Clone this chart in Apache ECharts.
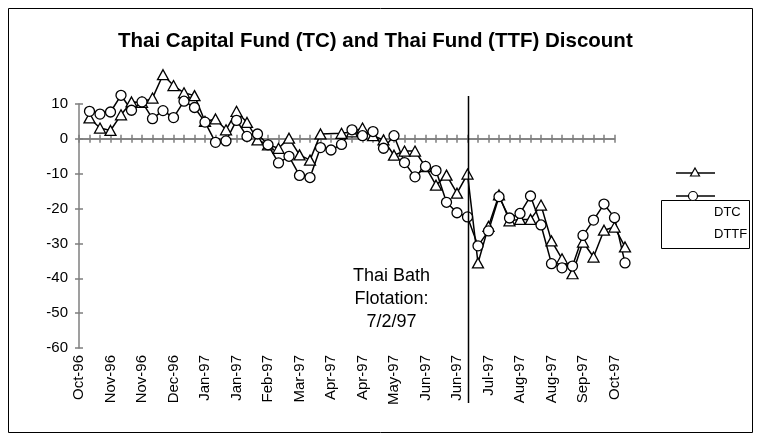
<!DOCTYPE html>
<html>
<head>
<meta charset="utf-8">
<script src="https://cdn.jsdelivr.net/npm/echarts@6/dist/echarts.min.js"></script>
<style>
  html, body { margin: 0; padding: 0; background: #fff; }
  #chart { width: 761px; height: 441px; }
</style>
</head>
<body>
<div id="chart"></div>
<script>
// weekly ticks, Oct-96 .. Oct-97 (label on every third tick)
const categories = [
  'Oct-96', 'Oct-96', 'Nov-96', 'Nov-96', 'Nov-96', 'Nov-96', 'Nov-96',
  'Dec-96', 'Dec-96', 'Dec-96', 'Dec-96',
  'Jan-97', 'Jan-97', 'Jan-97', 'Jan-97', 'Jan-97',
  'Feb-97', 'Feb-97', 'Feb-97', 'Feb-97',
  'Mar-97', 'Mar-97', 'Mar-97', 'Mar-97',
  'Apr-97', 'Apr-97', 'Apr-97', 'Apr-97',
  'May-97', 'May-97', 'May-97', 'May-97', 'May-97',
  'Jun-97', 'Jun-97', 'Jun-97', 'Jun-97',
  'Jul-97', 'Jul-97', 'Jul-97', 'Jul-97',
  'Aug-97', 'Aug-97', 'Aug-97', 'Aug-97', 'Aug-97',
  'Sep-97', 'Sep-97', 'Sep-97', 'Sep-97',
  'Oct-97', 'Oct-97', 'Oct-97'
]

// discount (%), one value per week, first week on the 2nd tick
const dtc = [
  6.0, 3.1, 2.4, 6.9, 10.6, 10.5, 11.7, 18.4, 15.3, 13.2,
  12.4, 5.0, 5.7, 2.6, 7.9, 4.7, -0.3, -1.7, -2.7, 0.2,
  -4.6, -6.1, 1.4, null, 1.6, 2.0, 3.1, 0.9, -0.3, -4.7,
  -3.5, -3.5, -8.0, -13.3, -10.4, -15.6, -10.1, -35.6, -25.1, -16.1,
  -23.5, -23.1, -23.1, -19.0, -29.3, -34.4, -38.7, -29.6, -33.9, -26.2,
  -25.3, -31.0
]
const dttf = [
  7.9, 7.1, 7.7, 12.5, 8.2, 10.6, 5.8, 8.1, 6.1, 10.8,
  9.0, 4.8, -1.0, -0.6, 5.3, 0.7, 1.4, -1.7, -6.9, -5.0,
  -10.5, -11.1, -2.5, -3.2, -1.6, 2.6, 0.9, 2.1, -2.7, 0.9,
  -6.8, -10.9, -7.9, -9.1, -18.2, -21.2, -22.4, -30.7, -26.4, -16.6,
  -22.7, -21.4, -16.4, -24.7, -35.8, -37.0, -36.5, -27.7, -23.3, -18.7,
  -22.6, -35.6
]
const seriesNames = ['DTC', 'DTTF']
const yTicks = { min: -60, max: 10, step: 10 }
const flotationIndex = 37
const flotationText = 'Thai Bath\nFlotation:\n7/2/97'

const font = "'Liberation Sans', Arial, sans-serif"
const axisGray = '#7f7f7f'

let dom = echarts.init(document.getElementById('chart'))

// the zero line with its ticks stops one week before the last point
let tickCats = categories.slice(0, categories.length - 1)

let zeroAxis = function (pos) {
  return {
    type: 'category',
    gridIndex: 1,
    data: tickCats,
    boundaryGap: false,
    position: pos,
    axisLine: { onZero: true, onZeroAxisIndex: 2, lineStyle: { color: axisGray, width: 1.5 } },
    axisTick: { interval: 0, length: 4, lineStyle: { color: axisGray, width: 1.5 } },
    axisLabel: { show: false }
  }
}

let option = {
  animation: false,
  title: {
    text: 'Thai Capital Fund (TC) and Thai Fund (TTF) Discount',
    left: 118,
    top: 31,
    padding: 0,
    textStyle: { fontFamily: font, fontSize: 20.5, fontWeight: 'bold', color: '#000' }
  },
  grid: [
    { left: 79, right: 136, top: 104, bottom: 93 },
    { left: 79, right: 146.5, top: 104, bottom: 93 }
  ],
  xAxis: [
    {
      type: 'category',
      gridIndex: 0,
      data: categories,
      boundaryGap: false,
      position: 'bottom',
      axisLine: { show: false, onZero: false },
      axisTick: { show: false },
      axisLabel: {
        interval: 2,
        rotate: 90,
        margin: 7,
        fontFamily: font,
        fontSize: 15,
        color: '#000'
      }
    },
    zeroAxis('bottom'),
    zeroAxis('top')
  ],
  yAxis: [
    {
      type: 'value',
      gridIndex: 0,
      min: yTicks.min,
      max: yTicks.max,
      interval: yTicks.step,
      splitLine: { show: false },
      axisLine: { show: true, lineStyle: { color: axisGray, width: 1.5 } },
      axisTick: { show: true, length: 4, lineStyle: { color: axisGray, width: 1.5 } },
      axisLabel: { margin: 11, fontFamily: font, fontSize: 15, color: '#000' }
    },
    {
      type: 'value',
      gridIndex: 0,
      min: yTicks.min,
      max: yTicks.max,
      interval: yTicks.step,
      position: 'left',
      splitLine: { show: false },
      axisLine: { show: false },
      axisTick: { show: true, inside: true, length: 4, lineStyle: { color: axisGray, width: 1.5 } },
      axisLabel: { show: false }
    },
    {
      type: 'value',
      gridIndex: 1,
      min: yTicks.min,
      max: yTicks.max,
      interval: yTicks.step,
      show: false
    }
  ],
  series: [
    {
      name: seriesNames[0],
      type: 'line',
      data: [null].concat(dtc),
      clip: false,
      connectNulls: true,
      symbol: 'triangle',
      symbolSize: [11, 10],
      showAllSymbol: true,
      lineStyle: { color: '#000', width: 1.5 },
      itemStyle: { color: '#fff', borderColor: '#000', borderWidth: 1.3 },
      z: 3
    },
    {
      name: seriesNames[1],
      type: 'line',
      data: [null].concat(dttf),
      clip: false,
      symbol: 'circle',
      symbolSize: 10,
      showAllSymbol: true,
      lineStyle: { color: '#000', width: 1.5 },
      itemStyle: { color: '#fff', borderColor: '#000', borderWidth: 1.3 },
      z: 3
    }
  ]
}

dom.setOption(option)

// flotation marker line and note, placed from the axis scale
let lineX = Math.round(dom.convertToPixel({ xAxisIndex: 0 }, flotationIndex)) + 0.5

dom.setOption({
  graphic: [
    {
      type: 'rect',
      shape: { x: 8.5, y: 8.5, width: 744, height: 424 },
      style: { fill: 'none', stroke: '#000', lineWidth: 1 },
      silent: true
    },
    {
      type: 'line',
      shape: { x1: lineX, y1: 96, x2: lineX, y2: 403 },
      style: { stroke: '#000', lineWidth: 1.5 },
      z: 10
    },
    {
      type: 'text',
      x: lineX - 77,
      y: 299,
      style: {
        text: flotationText,
        fontFamily: font,
        fontSize: 18,
        lineHeight: 23,
        fill: '#000',
        align: 'center',
        verticalAlign: 'middle'
      }
    },
    // legend: box with names, keys drawn above it
    {
      type: 'rect',
      shape: { x: 661.5, y: 200.5, width: 88, height: 48 },
      style: { fill: 'none', stroke: '#000', lineWidth: 1 }
    },
    {
      type: 'text',
      x: 714,
      y: 212,
      style: { text: seriesNames[0], fontFamily: font, fontSize: 13, fill: '#000', verticalAlign: 'middle' }
    },
    {
      type: 'text',
      x: 714,
      y: 234,
      style: { text: seriesNames[1], fontFamily: font, fontSize: 13, fill: '#000', verticalAlign: 'middle' }
    },
    {
      type: 'line',
      shape: { x1: 676, y1: 173, x2: 715, y2: 173 },
      style: { stroke: '#000', lineWidth: 1.5 }
    },
    {
      type: 'polygon',
      shape: { points: [[695, 168], [699.5, 176], [690.5, 176]] },
      style: { fill: '#fff', stroke: '#000', lineWidth: 1.2 }
    },
    {
      type: 'line',
      shape: { x1: 676, y1: 196, x2: 715, y2: 196 },
      style: { stroke: '#000', lineWidth: 1.5 }
    },
    {
      type: 'circle',
      shape: { cx: 693, cy: 196, r: 4.5 },
      style: { fill: '#fff', stroke: '#000', lineWidth: 1.2 }
    }
  ]
})
</script>
</body>
</html>
